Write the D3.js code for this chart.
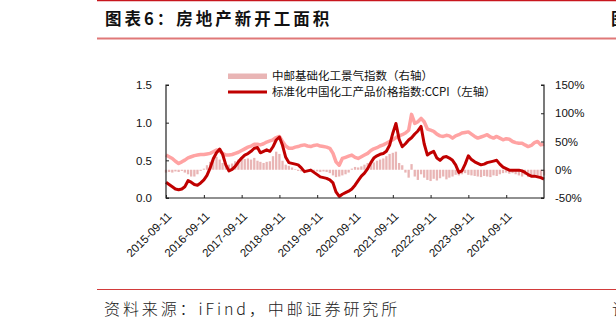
<!DOCTYPE html>
<html><head><meta charset="utf-8">
<script src="https://cdn.jsdelivr.net/npm/d3@7"></script>
<style>
html,body{margin:0;padding:0;background:#fff;overflow:hidden;}
svg{display:block;}
</style></head>
<body>
<svg id="c" width="616" height="329"></svg>
<script>
// ---- data ----
const startDate = "2015-09-11";
const tickLabels = ["2015-09-11","2016-09-11","2017-09-11","2018-09-11","2019-09-11","2020-09-11","2021-09-11","2022-09-11","2023-09-11","2024-09-11"];
const leftTicks = [0.0, 0.5, 1.0, 1.5];
const rightTicks = [-50, 0, 50, 100, 150];
const seriesNames = ["中邮基础化工景气指数（右轴）", "标准化中国化工产品价格指数:CCPI（左轴）"];
// monthly values, right axis (%), bars
const barValues = [-5,-4,-5,-3,-4,-2,-5,-8,-12,-12,
  -8,-2,2,8,14,20,23,18,12,8,
  9,11,15,18,20,19,20,18,21,16,
  14,12,14,15,24,32,28,16,9,7,
  4,1,-2,-3,-2,-3,-4,-2,-3,-4,
  -3,-4,-6,-10,-13,-12,-10,-8,-5,2,
  5,4,6,9,12,14,13,16,18,20,
  24,28,30,32,12,8,-5,-14,10,-12,
  -18,-8,-14,-18,-20,-16,-19,-15,-12,-17,
  -14,-12,-9,-10,-8,-6,-9,-10,-11,-12,
  -13,-11,-12,-13,-10,-11,-8,-6,-5,-7,
  -6,-8,-10,-12,-9,-13,-11,-9,-12,-14,
  -10];
// monthly values, right axis (%), light line
const lightLine = [26,23,20,15,11,14,17,21,23,25,
  26,27,27,28,29,32,35,33,29,26,
  26,27,29,31,34,37,40,42,45,45,
  44,46,49,51,53,57,59,50,42,38,
  38,40,41,43,44,42,41,43,44,42,
  41,40,38,29,14,8,20,22,24,26,
  22,20,23,26,29,34,37,39,42,44,
  47,50,53,57,60,62,65,70,98,82,
  85,91,85,72,70,68,63,60,59,61,
  60,56,60,62,65,66,67,63,59,56,
  58,60,62,58,56,59,56,53,55,54,
  50,48,47,47,44,41,43,48,50,44,
  45];
// monthly values, left axis, CCPI
const ccpi = [0.21,0.18,0.15,0.12,0.11,0.12,0.15,0.23,0.21,0.18,
  0.17,0.20,0.24,0.30,0.40,0.52,0.60,0.65,0.58,0.44,
  0.36,0.38,0.42,0.48,0.53,0.57,0.59,0.62,0.66,0.67,
  0.60,0.62,0.64,0.62,0.68,0.77,0.81,0.70,0.54,0.47,
  0.46,0.45,0.44,0.40,0.35,0.36,0.37,0.34,0.31,0.28,
  0.27,0.26,0.24,0.20,0.08,0.02,0.05,0.07,0.09,0.12,
  0.17,0.23,0.29,0.33,0.39,0.47,0.53,0.56,0.58,0.59,
  0.62,0.70,0.86,0.99,0.78,0.68,0.72,0.77,0.80,0.85,
  0.89,0.95,0.72,0.57,0.60,0.62,0.53,0.50,0.54,0.55,
  0.53,0.50,0.44,0.34,0.36,0.45,0.56,0.51,0.48,0.46,
  0.44,0.45,0.47,0.48,0.49,0.50,0.45,0.41,0.39,0.37,
  0.37,0.37,0.37,0.36,0.34,0.31,0.29,0.29,0.28,0.27,
  0.25];

// ---- build ----
const parse = d3.timeParse("%Y-%m-%d");
const t0 = parse(startDate);
const dates = ccpi.map((_, i) => d3.timeMonth.offset(t0, i));
const data = dates.map((d, i) => ({date: d, bar: barValues[i], light: lightLine[i], ccpi: ccpi[i]}));

const svg = d3.select("#c");
const L = 166, R = 544, T = 85, B = 198;
const x = d3.scaleTime().domain([t0, d3.timeMonth.offset(t0, 120)]).range([L, R]);
const yL = d3.scaleLinear().domain([0, 1.5]).range([B, T]);
const yR = d3.scaleLinear().domain([-50, 150]).range([B, T]);

// decorations
const red = "#c8161d";
svg.append("line").attr("x1", 97).attr("x2", 616).attr("y1", 0.5).attr("y2", 0.5).attr("stroke", red).attr("stroke-width", 1.5);
svg.append("line").attr("x1", 97).attr("x2", 616).attr("y1", 38.5).attr("y2", 38.5).attr("stroke", "#e07878").attr("stroke-width", 2);
svg.append("line").attr("x1", 97).attr("x2", 616).attr("y1", 289.5).attr("y2", 289.5).attr("stroke", "#d23b3b").attr("stroke-width", 1);
svg.append("text").attr("x", 105).attr("y", 25).text("图表6：房地产新开工面积")
  .attr("font-family", "'Noto Sans CJK SC'").attr("font-weight", "bold").attr("font-size", 16.5)
  .attr("letter-spacing", 3).attr("fill", "#111");
svg.append("text").attr("x", 611).attr("y", 25).text("图")
  .attr("font-family", "'Noto Sans CJK SC'").attr("font-weight", "bold").attr("font-size", 16.5).attr("fill", "#111");
svg.append("text").attr("x", 104).attr("y", 315).text("资料来源：iFind，中邮证券研究所")
  .attr("font-family", "'Noto Sans CJK SC'").attr("font-weight", 300).attr("font-size", 16)
  .attr("letter-spacing", 2.9).attr("fill", "#222");
svg.append("text").attr("x", 612).attr("y", 315).text("请")
  .attr("font-family", "'Noto Sans CJK SC'").attr("font-weight", 300).attr("font-size", 16).attr("fill", "#222");

// bars
const bw = 2.3;
svg.append("g").selectAll("rect").data(data).join("rect")
  .attr("x", d => x(d.date) - bw / 2)
  .attr("width", bw)
  .attr("y", d => Math.min(yR(d.bar), yR(0)))
  .attr("height", d => Math.abs(yR(d.bar) - yR(0)))
  .attr("fill", "#e9b5b5");

// light line
svg.append("path").datum(data)
  .attr("d", d3.line().x(d => x(d.date)).y(d => yR(d.light)))
  .attr("fill", "none").attr("stroke", "#ffa3a3").attr("stroke-width", 3.5).attr("stroke-linejoin", "round");

// ccpi line
svg.append("path").datum(data)
  .attr("d", d3.line().x(d => x(d.date)).y(d => yL(d.ccpi)))
  .attr("fill", "none").attr("stroke", "#c00000").attr("stroke-width", 3).attr("stroke-linejoin", "round");

// axes
const tickFont = "'Liberation Sans', Arial, sans-serif";
const axL = svg.append("g").attr("transform", `translate(${L},0)`)
  .call(d3.axisRight(yL).tickValues(leftTicks).tickSize(3).tickFormat(d3.format(".1f")));
axL.selectAll("text").attr("x", -14).attr("text-anchor", "end");
const axR = svg.append("g").attr("transform", `translate(${R},0)`)
  .call(d3.axisLeft(yR).tickValues(rightTicks).tickSize(3).tickFormat(d => d + "%"));
axR.selectAll("text").attr("x", 11).attr("text-anchor", "start");
const tickDates = tickLabels.map(parse);
const axB = svg.append("g").attr("transform", `translate(0,${B})`)
  .call(d3.axisTop(x).tickValues(tickDates).tickSize(3).tickFormat(d3.timeFormat("%Y-%m-%d")));
axB.selectAll("text")
  .attr("transform", d => `translate(3,${16}) rotate(-45)`)
  .attr("x", 0).attr("y", 0).attr("dy", "0.35em").attr("text-anchor", "end");
[axL, axR, axB].forEach(a => {
  a.selectAll("path").attr("stroke", "#222").attr("stroke-width", 1.2);
  a.selectAll("line").attr("stroke", "#222");
  a.selectAll("text").attr("font-family", tickFont).attr("font-size", 11.5).attr("fill", "#111");
});
axL.select("path.domain").attr("d", `M3,${T}H0V${B}H3`);
axR.select("path.domain").attr("d", `M-3,${T}H0V${B}H-3`);
axB.select("path.domain").attr("d", `M${L},0H${R}`);

// legend
const lg = svg.append("g");
lg.append("rect").attr("x", 228).attr("y", 73.5).attr("width", 39).attr("height", 5.5).attr("fill", "#e9b5b5");
lg.append("line").attr("x1", 228).attr("x2", 267).attr("y1", 92).attr("y2", 92).attr("stroke", "#c00000").attr("stroke-width", 3);
lg.selectAll("text").data(seriesNames).join("text")
  .attr("x", 272).attr("y", (d, i) => 76 + i * 16).attr("dy", "0.35em")
  .attr("font-family", "'Noto Sans CJK SC'").attr("font-size", 11.5).attr("fill", "#111")
  .text(d => d);
</script>
</body></html>
